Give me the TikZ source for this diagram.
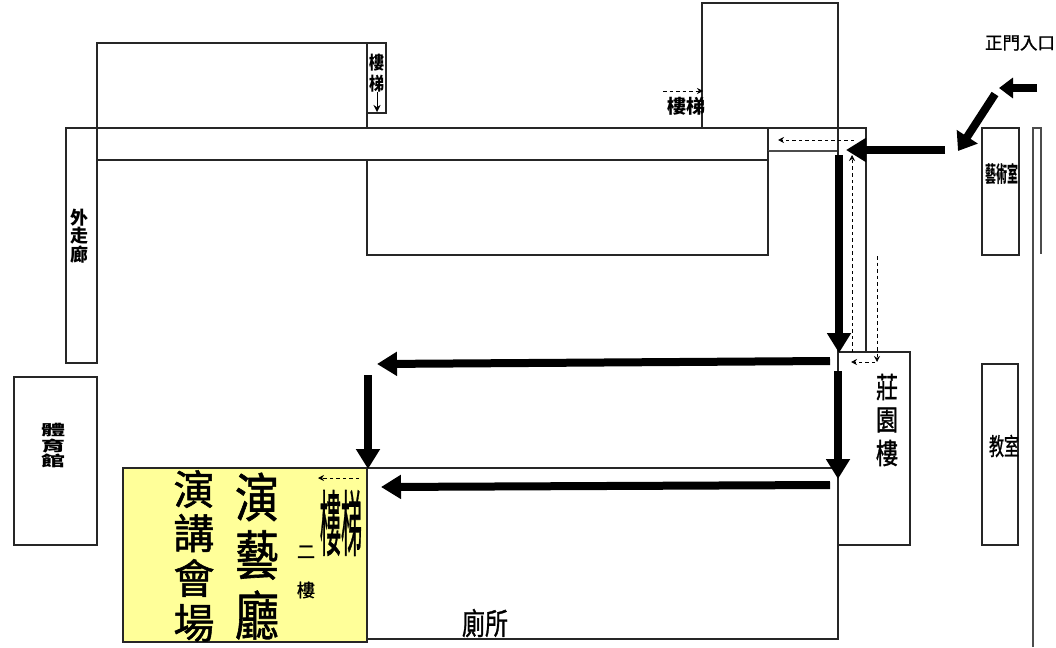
\documentclass[tikz,border=0pt]{standalone}
\usepackage{xcolor}
\usepackage{fontspec}
\newfontfamily\cjk{Noto Sans CJK TC}
\newfontfamily\cjkmid[FakeBold=1.2]{Noto Sans CJK TC}
\usetikzlibrary{arrows.meta,
                positioning,
                calc}
\colorlet{wall}{black!85}
\definecolor{hallyellow}{HTML}{FFFF99}
% #1 glyph size, #2 vertical stretch, #3 text
\newcommand{\glyphs}[3]{\scalebox{1}[#2]{\fontsize{#1}{#1}\cjk\bfseries #3}}
\newcommand{\midglyphs}[3]{\scalebox{1}[#2]{\fontsize{#1}{#1}\cjkmid #3}}
\begin{document}
\begin{tikzpicture}[x=1pt,y=-1pt,
  room/.style={draw=wall,line width=1.1pt},
  route/.style={line width=8pt,black,-{Triangle[length=20pt,width=23pt]}},
  entry/.style={line width=8pt,black,-{Triangle[length=14pt,width=20pt]}},
  hint/.style={line width=.8pt,black,dash pattern=on 3.5pt off 3pt,-{Stealth[length=6pt,width=6pt]}},
  word/.style={inner sep=0pt,outer sep=0pt,text=black}]
\useasboundingbox (0,0) rectangle (1056,647);
% rooms
\fill [white] (0,0) rectangle (1056,647);
\draw [room] (97,128) -- (97,43) -- (367,43) -- (367,128);
\draw [room] (367,113) rectangle (386,43);
\draw [room] (702,128) -- (702,3) -- (838,3) -- (838,128);
\draw [room] (97,128) rectangle (768,160);
\draw [room] (768,128) -- (866,128) -- (866,352);
\draw [room,draw=black!70] (768,151) -- (838,151);
\draw [room] (768,151) -- (768,255) -- (367,255) -- (367,160);
\draw [room] (66,128) rectangle (97,363);
\draw [room] (14,377) rectangle (97,545);
\draw [room] (838,128) -- (838,639) -- (367,639);
\draw [room] (367,468) -- (838,468);
\draw [room] (838,352) -- (910,352) -- (910,545) -- (838,545);
\draw [room] (982,128) rectangle (1019,255);
\draw [room] (982,364) rectangle (1018,545);
\draw [room,black!70] (1033,647) -- (1033,128) -- (1041,128) -- (1041,254);
\draw [room,fill=hallyellow] (123,468) rectangle (367,642);
% route points
\coordinate (gateA) at (1037,88);  \coordinate (gateB) at (999,88);
\coordinate (gateC) at (995,94);   \coordinate (gateD) at (958,151);
\coordinate (frontA) at (945,150); \coordinate (frontB) at (846,150);
\coordinate (downA) at (839,155);  \coordinate (downB) at (839,353);
\coordinate (leftA) at (830,361);  \coordinate (leftB) at (377,364);
\coordinate (downC) at (838,371);  \coordinate (downD) at (838,479);
\coordinate (backA) at (830,485);  \coordinate (backB) at (381,487);
\coordinate (hallA) at (368,375);  \coordinate (hallB) at (368,469);
\draw [entry] (gateA) -- (gateB);
\draw [entry,-{Triangle[length=17pt,width=24pt]}] (gateC) -- (gateD);
\foreach \from/\to in {frontA/frontB,downA/downB,leftA/leftB,downC/downD,backA/backB,hallA/hallB}
\draw [route] (\from) -- (\to);
% stair hints
\coordinate (hintA) at (663,91);  \coordinate (hintB) at (703,91);
\coordinate (hintC) at (854,140); \coordinate (hintD) at (778,140);
\coordinate (hintE) at (852,352); \coordinate (hintF) at (852,155);
\coordinate (hintG) at (877,256); \coordinate (hintH) at (877,362);
\coordinate (hintI) at (875,362); \coordinate (hintJ) at (851,362);
\coordinate (hintK) at (359,478); \coordinate (hintL) at (318,478);
\foreach \from/\to in {hintA/hintB,hintC/hintD,hintE/hintF,hintG/hintH,hintI/hintJ,hintK/hintL}
\draw [hint] (\from) -- (\to);
\coordinate (stairA) at (377,92); \coordinate (stairB) at (377,112);
\draw [thin,-{Stealth[length=7pt,width=7pt]}] (stairA) -- (stairB);
% labels
\node [word] (gate) at (1020,43) {\midglyphs{17.5}{1}{正門入口}};
\node [word] (stairNorth) at (686,106) {\glyphs{19}{1}{樓梯}};
\node [word] (art) at (1002,174) {\glyphs{11}{2}{藝術室}};
\node [word] (classroom) at (1004,446) {\midglyphs{15}{1.6}{教室}};
\node [word] (toilet) at (485,623) {\midglyphs{23}{1.3}{廁所}};
\node [word] (stairHall) at (341,523) {\midglyphs{21}{3.4}{樓梯}};
\foreach \ch/\ypos in {樓/63,梯/84}
\node [word] (stair-\ypos) at (377,\ypos) {\glyphs{15}{1.2}{\ch}};
\foreach \ch/\ypos in {外/218,走/236,廊/255}
\node [word] (walk-\ypos) at (79,\ypos) {\glyphs{18}{1}{\ch}};
\foreach \ch/\ypos in {體/430,育/446,館/461}
\node [word] (gym-\ypos) at (53,\ypos) {\glyphs{24}{0.6}{\ch}};
\foreach \ch/\ypos in {莊/387,園/420,樓/453}
\node [word] (manor-\ypos) at (887,\ypos) {\midglyphs{22}{1.3}{\ch}};
\foreach \ch/\ypos in {演/497,藝/555,廳/615}
\node [word] (art-\ypos) at (257,\ypos) {\midglyphs{44}{1.2}{\ch}};
\foreach \ch/\ypos in {演/489,講/533,會/578,場/623}
\node [word] (talk-\ypos) at (194,\ypos) {\midglyphs{41}{1}{\ch}};
\foreach \ch/\ypos in {二/552,樓/590}
\node [word] (floor-\ypos) at (306,\ypos) {\midglyphs{18}{1}{\ch}};
\end{tikzpicture}
\end{document}
